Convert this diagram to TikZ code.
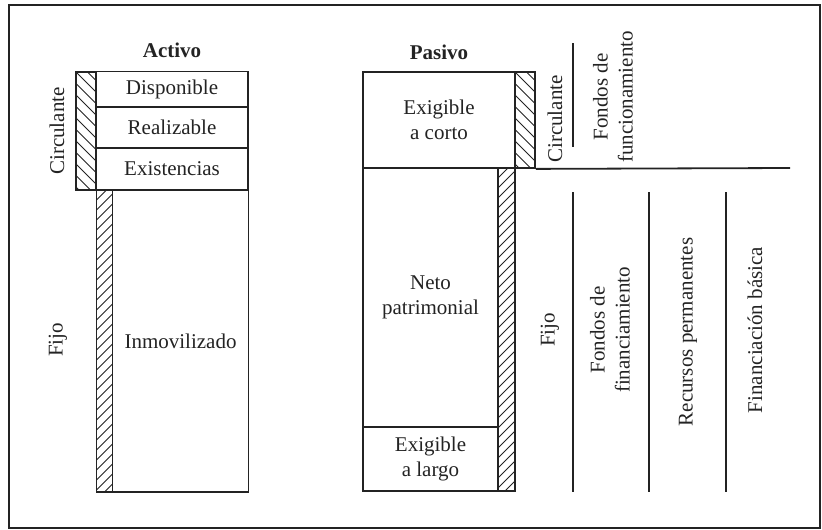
\documentclass[tikz,border=0pt]{standalone}
\usepackage{fontspec}
\setmainfont{Liberation Serif}
\definecolor{inkc}{RGB}{35,35,35}
\begin{document}
\begin{tikzpicture}[x=1pt,y=-1pt,
  font=\fontsize{21}{25}\selectfont,
  cell/.style={draw=inkc, line width=1.8pt, inner sep=0pt, text=inkc, align=center},
  lbl/.style={text=inkc, inner sep=0pt, align=center},
  vlbl/.style={lbl, rotate=90},
  head/.style={lbl, font=\fontsize{21}{25}\selectfont\bfseries},
  rule/.style={draw=inkc, line width=1.5pt},
  hatchline/.style={draw=inkc, line width=1pt},
  hatchdown/.style={cell, path picture={
      \foreach \k in {-30,...,4}
        \draw[hatchline] ([xshift={\k*11.5pt}]path picture bounding box.north west) -- ++(400,400);}},
  hatchup/.style={cell, path picture={
      \foreach \k in {0,...,40}
        \draw[hatchline] ([xshift={\k*10pt}]path picture bounding box.north west) -- ++(-400,400);}}]

\useasboundingbox (0,0) rectangle (822,530);
\draw[inkc, line width=1.5pt] (9,5) rectangle (820,528);

% --- Activo ---
\node[head] (activo) at (172,50) {Activo};
\node[hatchdown, minimum width=20pt, minimum height=118pt] (acirc) at (86,131) {};
\node[cell, minimum width=152pt, minimum height=36pt] (disp) at (172,89.5) {Disponible};
\node[cell, minimum width=152pt, minimum height=41pt] (real) at (172,127.5) {Realizable};
\node[cell, minimum width=152pt, minimum height=42pt] (exis) at (172,169) {Existencias};
\node[hatchup, minimum width=16pt, minimum height=302pt] (afijo) at (104.5,341) {};
\node[cell, minimum width=136pt, minimum height=302pt] (inmo) at (180.5,341) {Inmovilizado};
\node[vlbl] (lcirc) at (57,131) {Circulante};
\node[vlbl] (lfijo) at (58,340) {Fijo};

% --- Pasivo ---
\node[head] (pasivo) at (439,52) {Pasivo};
\node[cell, minimum width=152pt, minimum height=96pt] (ecorto) at (439,120) {Exigible\\a corto};
\node[hatchdown, minimum width=20pt, minimum height=96pt] (pcirc) at (525,120) {};
\node[cell, minimum width=135pt, minimum height=259pt] (neto) at (430.5,297.5) {Neto\\patrimonial};
\node[cell, minimum width=135pt, minimum height=64pt] (elargo) at (430.5,459) {Exigible\\a largo};
\node[hatchup, minimum width=17pt, minimum height=323pt] (pfijo) at (506.5,329.5) {};

% --- division between short and long term ---
\coordinate (cutend) at (790,168);
\draw[rule, line width=1.8pt] (pcirc.south east) -- (cutend);

% --- right-hand classification ---
\node[vlbl] (rcirc) at (555,119) {Circulante};
\coordinate (s1a) at (573,43);
\coordinate (s1b) at (573,147);
\draw[rule] (s1a) -- (s1b);
\node[vlbl] (ffun) at (613,97) {Fondos de\\funcionamiento};

\node[vlbl] (rfijo) at (550,330) {Fijo};
\coordinate (v1a) at (573,192); \coordinate (v1b) at (573,492);
\coordinate (v2a) at (649,192); \coordinate (v2b) at (649,492);
\coordinate (v3a) at (726,192); \coordinate (v3b) at (726,492);
\draw[rule] (v1a) -- (v1b);
\draw[rule] (v2a) -- (v2b);
\draw[rule] (v3a) -- (v3b);
\node[vlbl] (ffin) at (610,330) {Fondos de\\financiamiento};
\node[vlbl] (rperm) at (688,332) {Recursos permanentes};
\node[vlbl] (fbas) at (755,330) {Financiación básica};
\end{tikzpicture}
\end{document}
